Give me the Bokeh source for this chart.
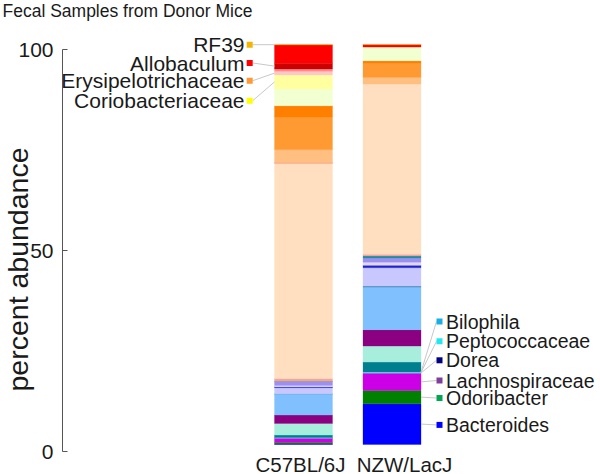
import numpy as np
from bokeh.plotting import figure
from bokeh.models import ColumnDataSource, Range1d, LinearAxis, FixedTicker
from bokeh.embed import file_html
from bokeh.resources import INLINE
from bokeh.core.properties import value

# ---------------- data ----------------
title = "Fecal Samples from Donor Mice"
y_title = "percent abundance"
strains = ["C57BL/6J", "NZW/LacJ"]

# stacked segments, bottom -> top
taxa = ["Bacteroides", "Odoribacter", "Lachnospiraceae", "Dorea", "Peptococcaceae",
        "Bilophila", "teal taxon", "aquamarine taxon", "purple taxon", "light blue taxon",
        "steel blue taxon", "lavender taxon", "blue taxon", "pale lavender taxon",
        "periwinkle taxon", "teal line taxon", "salmon line taxon", "peach taxon",
        "red-orange line taxon", "light orange taxon", "orange taxon", "dark orange taxon",
        "pale green taxon", "Coriobacteriaceae", "Erysipelotrichaceae", "pink taxon",
        "Allobaculum", "red taxon", "RF39"]
colors = ["#0000ff", "#008000", "#cc00e6", "#5aa0e0", "#7fd0f0",
          "#80c0ff", "#00808f", "#a8eedc", "#8b0080", "#80c0ff",
          "#4a90c8", "#c8c8ff", "#2222cc", "#e0d8ff",
          "#9b8ff0", "#2090a0", "#f4a49a", "#ffdfc0",
          "#f08060", "#ffbf80", "#ff9a33", "#ff8000",
          "#f2ffd0", "#ffff9f", "#ffc8c8", "#ff8a8a",
          "#cc0000", "#ff0000", "#f5b400"]
c57_values = [0.1, 0.4, 1.05, 0.1, 0.05,
              0.05, 0.6, 2.9, 2.1, 5.25,
              0.1, 1.5, 0.25, 0.3,
              1.0, 0.05, 0.7, 53.8,
              0.2, 3.2, 8.2, 2.8,
              4.2, 3.5, 0.9, 0.6,
              1.4, 4.6, 0.1]
nzw_values = [10.2, 3.3, 4.3, 0.15, 0.1,
              0.1, 2.45, 4.0, 4.1, 10.6,
              0.3, 4.6, 0.6, 0.75,
              1.1, 0.5, 0.4, 42.55,
              0.0, 1.65, 3.6, 0.6,
              3.4, 0.0, 0.0, 0.0,
              0.0, 0.6, 0.05]

left_labels = ["RF39", "Allobaculum", "Erysipelotrichaceae", "Coriobacteriaceae"]
left_marker_colors = ["#f5b400", "#ff0000", "#ff9933", "#ffff00"]
right_labels = ["Bilophila", "Peptococcaceae", "Dorea", "Lachnospiraceae", "Odoribacter", "Bacteroides"]
right_marker_colors = ["#19aee6", "#22e6f0", "#000080", "#7f3f98", "#00a651", "#0000ff"]
y_ticks = [0, 50, 100]

# ---------------- layout constants (canvas pixels) ----------------
W, H = 600, 474
PX_X = 88.5          # px per x unit
PX_Y = 4.0           # px per percent (bars)
BAR_W = 58 / PX_X
X1_PX = 303          # canvas x of first bar centre
Y0_PX = 444          # canvas y of 0 % for bars
AX0_PX, AX100_PX = 451, 49
AXIS_X_PX = 62

x_start = 1 - X1_PX / PX_X
x_end = x_start + W / PX_X
y_start = -(H - Y0_PX) / PX_Y
y_end = Y0_PX / PX_Y
ax_scale = (AX0_PX - AX100_PX) / 100.0
ay_start = -(H - AX0_PX) / ax_scale
ay_end = AX0_PX / ax_scale

def xpx(px):   # canvas px -> data x
    return x_start + px / PX_X

def ypx(py):   # canvas px -> data y (bar scale)
    return (Y0_PX - py) / PX_Y

def aypx(py):  # canvas px -> axis units
    return (AX0_PX - py) / ax_scale

FONT = "Liberation Sans"
TXT = "#1a1a1a"

p = figure(width=W, height=H, output_backend="svg", toolbar_location=None,
           x_range=Range1d(x_start, x_end), y_range=Range1d(y_start, y_end),
           x_axis_location=None, y_axis_location=None,
           min_border_left=0, min_border_right=0,
           min_border_top=0, min_border_bottom=0)
p.outline_line_color = None
p.grid.grid_line_color = None
p.background_fill_color = "white"
p.border_fill_color = "white"

# title
p.text(x=[xpx(2)], y=[ypx(10.5)], text=[title], text_font=value(FONT),
       text_font_size="17.5px", text_color=TXT, text_align="left",
       text_baseline="middle")

# ---------------- stacked bars ----------------
xs, bottoms, tops, cols, names = [], [], [], [], []
cum = {}
for si, vals in enumerate([c57_values, nzw_values]):
    base = 0.0
    for t, v, c in zip(taxa, vals, colors):
        cum[(si, t)] = (base, base + v)
        if v > 0:
            xs.append(si + 1); bottoms.append(base); tops.append(base + v)
            cols.append(c); names.append(t)
        base += v
src = ColumnDataSource(dict(x=xs, bottom=bottoms, top=tops, color=cols, name=names))
p.vbar(x="x", width=BAR_W, bottom="bottom", top="top", fill_color="color",
       line_color="color", line_width=0.3, source=src)

# ---------------- y axis ----------------
p.extra_y_ranges = {"ax": Range1d(ay_start, ay_end)}
yax = LinearAxis(y_range_name="ax", ticker=FixedTicker(ticks=y_ticks), bounds=(0, 100),
                 fixed_location=xpx(AXIS_X_PX))
yax.major_label_text_font = FONT
yax.major_label_text_font_size = "21px"
yax.major_label_text_color = TXT
yax.major_label_standoff = 9
yax.major_tick_in = 5
yax.major_tick_out = 0
yax.minor_tick_in = 0
yax.minor_tick_out = 0
yax.axis_line_color = "#555555"
yax.major_tick_line_color = "#555555"
p.add_layout(yax, "left")

# y-axis title carried by a line-less companion axis (so it can sit beside the tick labels)
lab_ax = LinearAxis(y_range_name="ax", ticker=FixedTicker(ticks=[]),
                    bounds=(aypx(388), aypx(150)), fixed_location=xpx(33))
lab_ax.axis_line_color = None
lab_ax.major_tick_line_color = None
lab_ax.minor_tick_line_color = None
lab_ax.major_label_text_font_size = "0px"
lab_ax.major_label_standoff = 0
lab_ax.axis_label = y_title
lab_ax.axis_label_text_font = FONT
lab_ax.axis_label_text_font_size = "28.5px"
lab_ax.axis_label_text_font_style = "normal"
lab_ax.axis_label_text_color = TXT
lab_ax.axis_label_standoff = 0
p.add_layout(lab_ax, "left")

# ---------------- strain labels ----------------
lab_src = ColumnDataSource(dict(x=[1, 2], y=[ypx(463.5)] * 2, text=strains, dx=[-3, 12.5]))
p.text(x="x", y="y", text="text", x_offset="dx", source=lab_src,
       text_font=value(FONT), text_font_size="20.5px", text_color=TXT,
       text_align="center", text_baseline="middle")

# ---------------- legends with leader lines ----------------
left_label_y = [ypx(44.2), ypx(62.5), ypx(80.2), ypx(100.2)]
left_targets = ["RF39", "Allobaculum", "Erysipelotrichaceae", "Coriobacteriaceae"]
edge_l = 1 - BAR_W / 2
l_ty = [sum(cum[(0, t)]) / 2 for t in left_targets]
p.segment(x0=[edge_l] * 4, y0=l_ty, x1=[edge_l - 21.8 / PX_X] * 4, y1=left_label_y,
          line_color="#c8c8c8", line_width=1)
p.scatter(x=[edge_l - 24.8 / PX_X] * 4, y=left_label_y, marker="square", size=6,
          fill_color=left_marker_colors, line_color=None)
p.text(x=[edge_l - 30 / PX_X] * 4, y=left_label_y, text=left_labels,
       text_font=value(FONT), text_font_size="21px", text_color=TXT,
       text_align="right", text_baseline="middle")

right_label_y = [ypx(321), ypx(340.8), ypx(359.8), ypx(380), ypx(397.5), ypx(424.4)]
edge_r = 2 + BAR_W / 2
r_ty = [sum(cum[(1, t)]) / 2 for t in right_labels]
p.segment(x0=[edge_r] * 6, y0=r_ty, x1=[edge_r + 15.5 / PX_X] * 6, y1=right_label_y,
          line_color="#c8c8c8", line_width=1)
p.scatter(x=[edge_r + 18.5 / PX_X] * 6, y=right_label_y, marker="square", size=6,
          fill_color=right_marker_colors, line_color=None)
p.text(x=[edge_r + 25 / PX_X] * 6, y=right_label_y, text=right_labels,
       text_font=value(FONT), text_font_size="19.5px", text_color=TXT,
       text_align="left", text_baseline="middle")

open("out.html", "w").write(file_html(p, INLINE))
